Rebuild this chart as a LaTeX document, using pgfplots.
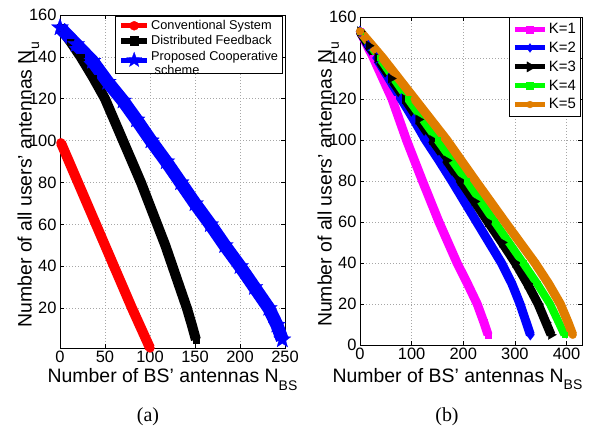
\documentclass[border=0pt]{standalone}
\usepackage{pgfplots}
\pgfplotsset{compat=1.18}
\usetikzlibrary{plotmarks}
\usepackage{fontspec}
\setmainfont{Liberation Sans}
\newfontfamily\serifrm{Liberation Serif}
\definecolor{morange}{RGB}{224,125,0}
\definecolor{mgreen}{RGB}{0,255,0}
\definecolor{mmag}{RGB}{255,0,255}

\pgfdeclareplotmark{fstar}{%
 \pgfpathmoveto{\pgfpointpolar{90}{\pgfplotmarksize}}%
 \pgfpathlineto{\pgfpointpolar{126}{0.42\pgfplotmarksize}}%
 \pgfpathlineto{\pgfpointpolar{162}{\pgfplotmarksize}}%
 \pgfpathlineto{\pgfpointpolar{198}{0.42\pgfplotmarksize}}%
 \pgfpathlineto{\pgfpointpolar{234}{\pgfplotmarksize}}%
 \pgfpathlineto{\pgfpointpolar{270}{0.42\pgfplotmarksize}}%
 \pgfpathlineto{\pgfpointpolar{306}{\pgfplotmarksize}}%
 \pgfpathlineto{\pgfpointpolar{342}{0.42\pgfplotmarksize}}%
 \pgfpathlineto{\pgfpointpolar{18}{\pgfplotmarksize}}%
 \pgfpathlineto{\pgfpointpolar{54}{0.42\pgfplotmarksize}}%
 \pgfpathclose
 \pgfusepathqfillstroke}

\newcommand{\sub}[1]{\raisebox{-0.38em}{\fontsize{14}{14}\selectfont #1}}

\pgfplotsset{mystyle/.style={
 scale only axis, clip=false,
 axis line style={line width=0.8bp},
 tick align=inside, major tick length=4bp,
 every tick/.style={line width=0.6bp, black},
 grid=major, grid style={line width=0.6bp, gray!70, dash pattern=on 0.8bp off 2.2bp},
 tick label style={font=\fontsize{16.5}{17}\selectfont},
 label style={font=\fontsize{19.5}{21}\selectfont},
 /pgf/number format/assume math mode=true,
 legend cell align=left,
}}

\begin{document}
\begin{tikzpicture}
\path[use as bounding box] (0,0) rectangle (593bp,429bp);

% ---------------- (a) ----------------
\begin{axis}[mystyle,
 at={(60bp,81bp)}, anchor=south west, width=225bp, height=333bp,
 xmin=0, xmax=250, ymin=1, ymax=160,
 xtick={0,50,...,250}, ytick={20,40,...,160},
 xlabel={Number of BS' antennas N\sub{BS}},
 ylabel={Number of all users' antennas N\sub{u}},
 xlabel style={at={(axis description cs:0.5,-0.105)}, anchor=base},
 ylabel style={at={(axis description cs:-0.126,0.49)}, anchor=base},
 legend style={at={(0.991,0.997)}, anchor=north east, draw=black, line width=0.8bp,
   font=\fontsize{12.8}{14}\selectfont, inner xsep=3bp, inner ysep=2.5bp,
   nodes={inner sep=1.5bp, text depth=0.15em}, row sep=1.5bp},
 legend image code/.code={\draw[mark repeat=2,mark phase=2,#1,line width=5bp] plot coordinates {(0bp,0bp) (13bp,0bp) (26bp,0bp)};},
]
\addplot[color=red, line width=10bp, mark=*, mark size=4.5bp, mark options={line width=0.2bp, solid},
  legend image post style={mark size=4.6bp}]
 coordinates {(1,99) (20,80) (40,60) (60,40) (80,20) (100,1)};
\addlegendentry{Conventional System}
\addplot[color=black, line width=10bp, mark=square*, mark size=3.2bp, mark options={line width=0.2bp, solid},
  legend image post style={mark size=4.4bp}]
 coordinates {(0,154) (12,147) (23,140) (37,130) (50,120) (60,110) (70,100) (80,90) (90,80) (99,70) (108,60) (117,50) (125,40) (133,30) (141,20) (146.5,12) (151,5)};
\addlegendentry{Distributed Feedback}
\addplot[color=blue, line width=13bp, mark=fstar, mark size=9bp, mark options={line width=0.2bp, solid},
  legend image post style={mark size=8bp}]
 coordinates {(0,154) (18,146) (36,138) (53,128) (70,119) (85,110) (101,100) (118,90) (134,80) (150,70) (167,60) (183,50) (200,40) (216,30) (232,20) (241,12) (247,5)};
\addlegendentry{\begin{tabular}{@{}l@{}}Proposed Cooperative\\\ scheme\end{tabular}}
\end{axis}

% ---------------- (b) ----------------
\begin{axis}[mystyle,
 at={(360bp,84bp)}, anchor=south west, width=222bp, height=328bp,
 xmin=0, xmax=430, ymin=0, ymax=160,
 xtick={0,100,...,400}, ytick={0,20,...,160},
 xlabel={Number of BS' antennas N\sub{BS}},
 ylabel={Number of all users' antennas N\sub{u}},
 xlabel style={at={(axis description cs:0.439,-0.113)}, anchor=base},
 ylabel style={at={(axis description cs:-0.128,0.49)}, anchor=base},
 legend style={at={(0.995,0.999)}, anchor=north east, draw=black, line width=0.8bp,
   font=\fontsize{15}{16}\selectfont, inner xsep=3bp, inner ysep=4bp,
   nodes={inner sep=1.5bp, text depth=0.15em}, row sep=4bp},
 legend image code/.code={\draw[mark repeat=2,mark phase=2,#1,line width=5bp] plot coordinates {(0bp,0bp) (15bp,0bp) (30bp,0bp)};},
]
\addplot[color=mmag, line width=9bp, mark=square*, mark size=3bp, mark options={line width=0.2bp, solid},
  legend image post style={mark size=3.5bp}]
 coordinates {(0,153) (26,140) (62,120) (90,100) (121,80) (153,60) (188,40) (208,30) (227,20) (240,11) (248,5)};
\addlegendentry{K=1}
\addplot[color=blue, line width=9bp, mark=diamond*, mark size=5.5bp, mark options={line width=0.2bp, solid},
  legend image post style={mark size=4.5bp}]
 coordinates {(0,153) (16,146) (32,140) (56,130) (80,120) (104,110) (127,100) (153,90) (178,80) (202,70) (226,60) (250,50) (274,40) (294,30) (310,20) (322,11) (330,5)};
\addlegendentry{K=2}
\addplot[color=black, line width=9bp, mark=triangle*, mark size=5.5bp, mark options={line width=0.2bp, solid, rotate=-90},
  legend image post style={mark size=6bp}]
 coordinates {(0,153) (17,146) (34,140) (60,130) (87,120) (113,110) (140,100) (168,90) (195,80) (222,70) (248,60) (275,50) (301,40) (324,30) (345,20) (360,11) (370,5)};
\addlegendentry{K=3}
\addplot[color=mgreen, line width=8bp, mark=square*, mark size=2.6bp, mark options={line width=0.2bp, solid},
  legend image post style={mark size=3.5bp}]
 coordinates {(0,153) (38,140) (93,120) (150,100) (207,80) (261,60) (316,40) (343,30) (368,20) (385,11) (396,5)};
\addlegendentry{K=4}
\addplot[color=morange, line width=9bp, mark=*, mark size=4bp, mark options={line width=0.2bp, solid},
  legend image post style={mark size=3.5bp}]
 coordinates {(0,153) (44,140) (106,120) (168,100) (224,80) (281,60) (339,40) (365,30) (388,20) (403,11) (412,5)};
\addlegendentry{K=5}
\end{axis}

\node[font=\serifrm\fontsize{20}{22}\selectfont] at (148bp,12bp) {(a)};
\node[font=\serifrm\fontsize{20}{22}\selectfont] at (447bp,12bp) {(b)};
\end{tikzpicture}
\end{document}
